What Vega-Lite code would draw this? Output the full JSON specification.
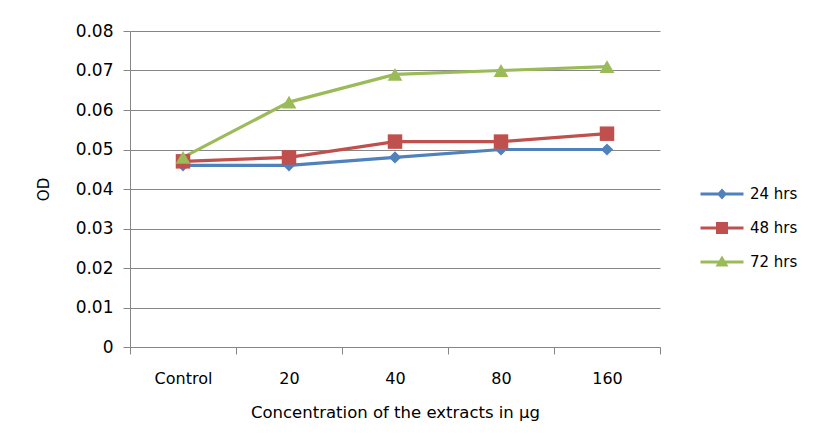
{
  "$schema": "https://vega.github.io/schema/vega-lite/v6.json",
  "width": 530,
  "height": 316,
  "autosize": "none",
  "padding": {"left": 130, "top": 31, "right": 156, "bottom": 88},
  "background": "white",
  "config": {
    "font": "DejaVu Sans",
    "view": {"stroke": null},
    "axis": {"labelFont": "DejaVu Sans", "titleFont": "DejaVu Sans", "labelColor": "#000", "titleColor": "#000", "titleFontWeight": "normal", "domainColor": "#868686", "tickColor": "#868686", "gridColor": "#868686", "gridOpacity": 1},
    "legend": {"labelFont": "DejaVu Sans", "labelColor": "#000"}
  },
  "data": {
    "values": [
      {"conc": "Control", "series": "24 hrs", "od": 0.046},
      {"conc": "20", "series": "24 hrs", "od": 0.046},
      {"conc": "40", "series": "24 hrs", "od": 0.048},
      {"conc": "80", "series": "24 hrs", "od": 0.050},
      {"conc": "160", "series": "24 hrs", "od": 0.050},
      {"conc": "Control", "series": "48 hrs", "od": 0.047},
      {"conc": "20", "series": "48 hrs", "od": 0.048},
      {"conc": "40", "series": "48 hrs", "od": 0.052},
      {"conc": "80", "series": "48 hrs", "od": 0.052},
      {"conc": "160", "series": "48 hrs", "od": 0.054},
      {"conc": "Control", "series": "72 hrs", "od": 0.048},
      {"conc": "20", "series": "72 hrs", "od": 0.062},
      {"conc": "40", "series": "72 hrs", "od": 0.069},
      {"conc": "80", "series": "72 hrs", "od": 0.070},
      {"conc": "160", "series": "72 hrs", "od": 0.071}
    ]
  },
  "encoding": {
    "x": {
      "field": "conc", "type": "ordinal", "sort": ["Control", "20", "40", "80", "160"],
      "scale": {"type": "band", "paddingInner": 0, "paddingOuter": 0},
      "axis": {"title": "Concentration of the extracts in µg", "labelAngle": 0, "tickBand": "extent", "tickSize": 7, "labelFontSize": 16, "titleFontSize": 16.5, "labelPadding": 16, "titlePadding": 18, "grid": false}
    },
    "y": {
      "field": "od", "type": "quantitative",
      "scale": {"domain": [0, 0.08], "nice": false},
      "axis": {"title": "OD", "values": [0, 0.01, 0.02, 0.03, 0.04, 0.05, 0.06, 0.07, 0.08], "format": "~g", "tickSize": 7, "labelFontSize": 17, "titleFontSize": 15, "labelPadding": 10, "titlePadding": 24, "grid": true}
    },
    "color": {
      "field": "series", "type": "nominal",
      "scale": {"domain": ["24 hrs", "48 hrs", "72 hrs"], "range": ["#4F81BD", "#C0504D", "#9BBB59"]},
      "legend": {"title": null, "orient": "none", "legendX": 582, "legendY": 153, "labelFontSize": 15, "rowPadding": 16, "symbolSize": 400, "labelOffset": 18, "symbolStrokeWidth": 0}
    }
  },
  "layer": [
    {
      "mark": {"type": "point", "filled": true, "opacity": 1, "size": 1},
      "encoding": {
        "shape": {
          "field": "series", "type": "nominal",
          "scale": {"domain": ["24 hrs", "48 hrs", "72 hrs"], "range": [
            "M-2.15,-0.14H2.15V0.14H-2.15Z M0,-0.55L0.5,0L0,0.55L-0.5,0Z",
            "M-2.15,-0.14H2.15V0.14H-2.15Z M-0.6,-0.6H0.6V0.6H-0.6Z",
            "M-2.15,-0.14H2.15V0.14H-2.15Z M0,-0.65L0.65,0.45H-0.65Z"
          ]},
          "legend": {"title": null, "orient": "none", "legendX": 582, "legendY": 153, "labelFontSize": 15, "rowPadding": 16, "symbolSize": 400, "labelOffset": 18, "symbolStrokeWidth": 0}
        }
      }
    },
    {"mark": {"type": "line", "strokeWidth": 3.2}, "encoding": {}},
    {
      "transform": [{"filter": "datum.series == '24 hrs'"}],
      "mark": {"type": "point", "filled": true, "opacity": 1, "shape": "diamond", "size": 150},
      "encoding": {}
    },
    {
      "transform": [{"filter": "datum.series == '48 hrs'"}],
      "mark": {"type": "point", "filled": true, "opacity": 1, "shape": "square", "size": 210},
      "encoding": {}
    },
    {
      "transform": [{"filter": "datum.series == '72 hrs'"}],
      "mark": {"type": "point", "filled": true, "opacity": 1, "shape": "triangle-up", "size": 220},
      "encoding": {}
    }
  ]
}
